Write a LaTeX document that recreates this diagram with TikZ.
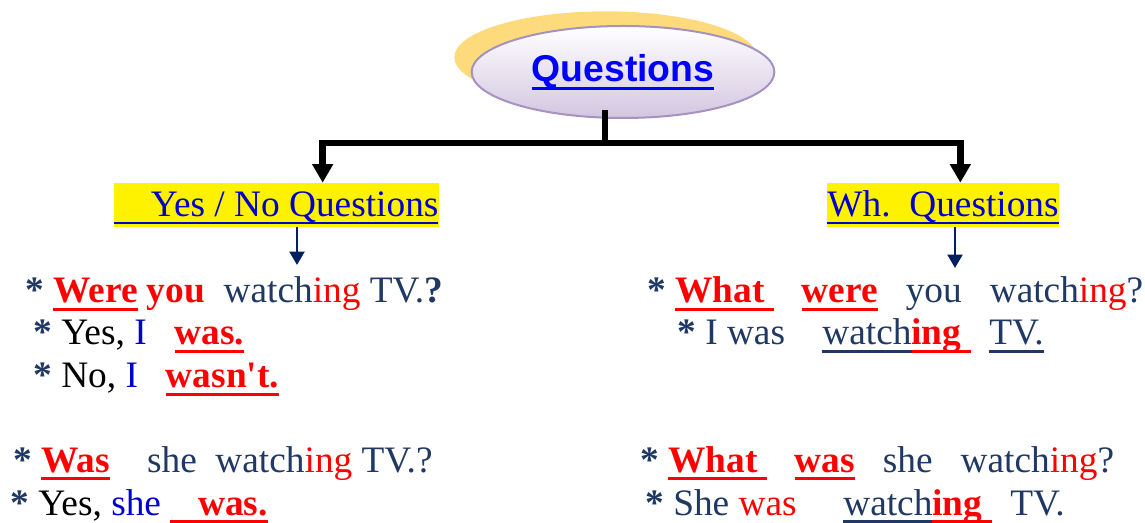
\documentclass[tikz,border=0pt]{standalone}
\usepackage{fontspec}
\setmainfont{Liberation Serif}[Ligatures=TeXOff]
\newfontfamily\arialfont{Liberation Sans}
\usepackage{tikz}
\usetikzlibrary{arrows.meta,shapes.geometric,positioning,shadows}
\definecolor{navy}{HTML}{1F3864}
\definecolor{arrownavy}{HTML}{002060}
\definecolor{qblue}{HTML}{0000CC}
\definecolor{titleblue}{HTML}{0000FF}
\definecolor{qred}{HTML}{FF0000}
\definecolor{qgold}{HTML}{FDDB7C}
\definecolor{qlav}{HTML}{D3C6E0}
\definecolor{qrim}{HTML}{A692C2}
\newcommand{\uln}[2]{{\color{#1}\setbox0\hbox{#2}\rlap{\rule[-6pt]{\wd0}{2pt}}\box0}}
\newcommand{\bul}{\textcolor{navy}{\textbf{*}}}
\newcommand{\ing}{\textcolor{qred}{ing}}
\tikzset{
    titlebox/.style={ellipse, draw=qrim, line width=1.5pt, top color=white, bottom color=qlav,
        minimum width=227pt, minimum height=69pt, inner sep=0pt,
        drop shadow={shadow xshift=-13pt, shadow yshift=11pt, fill=qgold, opacity=1},
        text=titleblue, font=\arialfont\bfseries\fontsize{28}{34}\selectfont},
    hdr/.style={fill=yellow, inner xsep=0pt, inner ysep=0pt, text height=25pt, text depth=8pt,
        text=qblue, font=\fontsize{28}{34}\selectfont},
    sentence/.style={anchor=base west, inner sep=0pt, text=navy, font=\fontsize{28}{34}\selectfont},
    trunk/.style={black, line width=5pt, line join=miter},
    branch/.style={trunk, -{Triangle[width=15pt, length=14pt]}},
    subarrow/.style={arrownavy, line width=2.2pt, -{Triangle[width=11pt, length=10pt]}}
}
\begin{document}
\begin{tikzpicture}[x=0.75pt, y=-0.75pt]
    \useasboundingbox (0,0) rectangle (1145,523);

    % Title
    \node[titlebox] (qs) at (623,72) {\uln{titleblue}{Questions}};
    \coordinate (hub) at (605,143);
    \draw[trunk] ([yshift=7pt]qs.south -| hub) -- (hub);

    % Two kinds of questions
    \node[hdr] (yn) at (276,205) {\uln{qblue}{\hspace{28pt}Yes / No Questions}};
    \node[hdr] (wh) at (943,205) {\uln{qblue}{Wh.\ \ Questions}};
    \draw[branch] (hub) -| ([xshift=35pt]yn.north);
    \draw[branch] (hub) -| ([xshift=13pt]wh.north);

    \coordinate (ya) at (297,265);
    \coordinate (wa) at (955,268);
    \draw[subarrow] (yn.south -| ya) -- (ya);
    \draw[subarrow] (wh.south -| wa) -- (wa);

    % Yes / No examples
    \node[sentence] (l1) at (25,303) {\bul\ \uln{qred}{\textbf{Were}}\ \textcolor{qred}{\textbf{you}}\ \ watch\ing{} TV.\textbf{?}};
    \node[sentence] (l2) at (33,345) {\bul\ \textcolor{black}{Yes,} \textcolor{qblue}{I}\ \ \ \uln{qred}{\textbf{was.}}};
    \node[sentence] (l3) at (33,388) {\bul\ \textcolor{black}{No,} \textcolor{qblue}{I}\ \ \ \uln{qred}{\textbf{wasn't.}}};
    \node[sentence] (l4) at (13,472) {\bul\ \uln{qred}{\textbf{Was}}\ \ \ \ she\ \ watch\ing{} TV.?};
    \node[sentence] (l5) at (10,515) {\bul\ \textcolor{black}{Yes,} \textcolor{qblue}{she}\ \uln{qred}{\ \ \ \textbf{was.}}};

    % Wh. examples
    \node[sentence] (r1) at (647,303) {\bul\ \uln{qred}{\textbf{What\ }}\ \ \ \uln{qred}{\textbf{were}}\ \ \ you\ \ \ watch\ing?};
    \node[sentence] (r2) at (677,345) {\bul\ I was\ \ \ \ \uln{navy}{watch}\uln{qred}{\textbf{ing}\ }\ \ \uln{navy}{TV.}};
    \node[sentence] (r3) at (640,472) {\bul\ \uln{qred}{\textbf{What\ }}\ \ \ \uln{qred}{\textbf{was}}\ \ \ she\ \ \ watch\ing?};
    \node[sentence] (r4) at (645,515) {\bul\ She \textcolor{qred}{was}\ \ \ \ \ \uln{navy}{watch}\uln{qred}{\textbf{ing}\ }\ \ TV.};
\end{tikzpicture}
\end{document}
